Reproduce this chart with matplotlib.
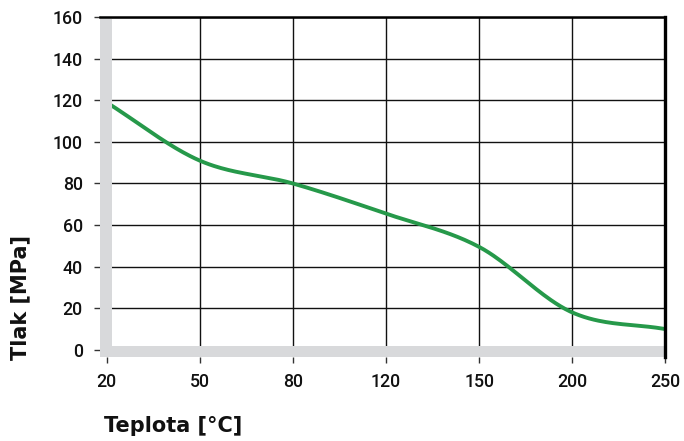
import matplotlib

matplotlib.use("Agg")
import matplotlib.pyplot as plt
import numpy as np

temps = ["20", "50", "80", "120", "150", "200", "250"]
pressure = [119, 91, 80, 65.5, 49.5, 18, 10]
y_ticks = [0, 20, 40, 60, 80, 100, 120, 140, 160]


def smooth(xs, ys, n=40):
    # cubic hermite through the points, for a rounded line like the original
    xs = np.asarray(xs, float)
    ys = np.asarray(ys, float)
    m = np.gradient(ys, xs)
    out_x, out_y = [], []
    for i in range(len(xs) - 1):
        t = np.linspace(0, 1, n)
        h = xs[i + 1] - xs[i]
        h00 = 2 * t**3 - 3 * t**2 + 1
        h10 = t**3 - 2 * t**2 + t
        h01 = -2 * t**3 + 3 * t**2
        h11 = t**3 - t**2
        out_x.extend(xs[i] + t * h)
        out_y.extend(h00 * ys[i] + h10 * h * m[i] + h01 * ys[i + 1] + h11 * h * m[i + 1])
    return out_x, out_y


plt.rcParams["font.family"] = ["Roboto", "Liberation Sans", "DejaVu Sans"]

fig = plt.figure(figsize=(6.84, 4.41), dpi=100)
W, H = 684, 441
ax = fig.add_axes([100 / W, 1 - 357 / H, (665.5 - 100) / W, (357 - 17) / H])

xs = np.arange(len(temps))
sx, sy = smooth(xs, pressure)
ax.plot(sx, sy, color="#26994a", linewidth=2.8, zorder=3, solid_capstyle="butt")

ax.set_xlim(-0.07, len(temps) - 1)
ax.set_ylim(-3.4, 160)
ax.set_xticks(xs)
ax.set_xticklabels(temps)
ax.set_yticks(y_ticks)

ax.grid(True, color="#111111", linewidth=1.0, zorder=1)
ax.set_axisbelow(True)

# grey bars along the left and bottom edges
ax.axvspan(-0.07, 0.058, color="#d8d9db", zorder=4, linewidth=0)
ax.axhspan(-3.4, 1.9, color="#d8d9db", zorder=4, linewidth=0)

ax.spines["left"].set_visible(False)
ax.spines["bottom"].set_visible(False)
ax.spines["top"].set_linewidth(1.8)
ax.spines["right"].set_linewidth(2.4)
for s in ("top", "right"):
    ax.spines[s].set_color("black")
    ax.spines[s].set_zorder(5)

ax.tick_params(axis="both", length=4.5, width=1, color="#333333",
               labelsize=12.8, labelcolor="#111111")
ax.tick_params(axis="x", pad=7)
ax.tick_params(axis="y", pad=8)
for lab in ax.get_xticklabels() + ax.get_yticklabels():
    lab.set_fontweight("medium")

fig.text(20 / W, 1 - 297 / H, "Tlak [MPa]", rotation=90, ha="center", va="center",
         fontsize=15, fontweight="bold", color="#111111", family="DejaVu Sans")
fig.text(104 / W, 1 - 426 / H, "Teplota [°C]", ha="left", va="center",
         fontsize=15, fontweight="bold", color="#111111", family="DejaVu Sans")

fig.savefig("out.png", dpi=100)
